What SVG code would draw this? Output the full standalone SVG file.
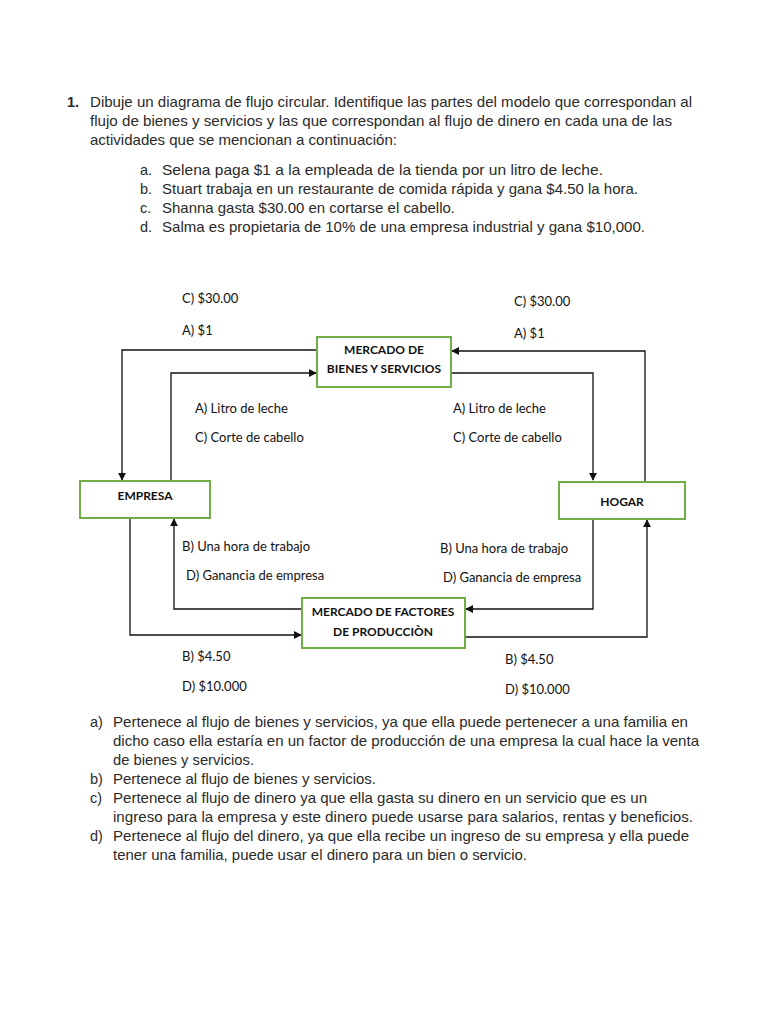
<svg xmlns="http://www.w3.org/2000/svg" width="768" height="1024" viewBox="0 0 768 1024">
<defs>
<style>
.q{font-family:"Liberation Sans",Arial,sans-serif;font-size:14.5px;fill:#2a2a2a}
.b{font-weight:bold}
.l{font-family:Lato,"Open Sans",sans-serif;font-size:13px;fill:#111}
.n{fill:#fff;stroke:#70ad47;stroke-width:2}
.nt{font-family:Lato,"Open Sans",sans-serif;font-size:12px;font-weight:bold;fill:#111;text-anchor:middle}
.c{fill:none;stroke:#111;stroke-width:1.3}
</style>
<marker id="ah" viewBox="0 0 10 10" refX="9" refY="5" markerWidth="8" markerHeight="8" markerUnits="userSpaceOnUse" orient="auto">
<path d="M0,0 L10,5 L0,10 z" fill="#111"/>
</marker>
</defs>
<rect width="768" height="1024" fill="#fff"/>

<g id="question">
<text class="q b" x="67" y="107">1.</text>
<text class="q" x="90" y="107" textLength="602" lengthAdjust="spacingAndGlyphs">Dibuje un diagrama de flujo circular. Identifique las partes del modelo que correspondan al</text>
<text class="q" x="90" y="126" textLength="582" lengthAdjust="spacingAndGlyphs">flujo de bienes y servicios y las que correspondan al flujo de dinero en cada una de las</text>
<text class="q" x="90" y="145" textLength="307" lengthAdjust="spacingAndGlyphs">actividades que se mencionan a continuación:</text>
<text class="q" x="140" y="175">a.</text>
<text class="q" x="162" y="175" textLength="441" lengthAdjust="spacingAndGlyphs">Selena paga $1 a la empleada de la tienda por un litro de leche.</text>
<text class="q" x="140" y="194">b.</text>
<text class="q" x="162" y="194" textLength="476" lengthAdjust="spacingAndGlyphs">Stuart trabaja en un restaurante de comida rápida y gana $4.50 la hora.</text>
<text class="q" x="140" y="213">c.</text>
<text class="q" x="162" y="213" textLength="293" lengthAdjust="spacingAndGlyphs">Shanna gasta $30.00 en cortarse el cabello.</text>
<text class="q" x="140" y="232">d.</text>
<text class="q" x="162" y="232" textLength="483" lengthAdjust="spacingAndGlyphs">Salma es propietaria de 10% de una empresa industrial y gana $10,000.</text>
</g>

<g id="connectors">
<polyline class="c" points="317,350 122,350 122,480" marker-end="url(#ah)"/>
<polyline class="c" points="171,481 171,373 316,373" marker-end="url(#ah)"/>
<polyline class="c" points="451,373 593,373 593,480" marker-end="url(#ah)"/>
<polyline class="c" points="645,481 645,351 452,351" marker-end="url(#ah)"/>
<polyline class="c" points="130,519 130,635 301,635" marker-end="url(#ah)"/>
<polyline class="c" points="302,609 174,609 174,519" marker-end="url(#ah)"/>
<polyline class="c" points="593,520 593,609 466,609" marker-end="url(#ah)"/>
<polyline class="c" points="465,637 647,637 647,520" marker-end="url(#ah)"/>
</g>

<g id="node-bienes">
<rect class="n" x="317" y="337" width="134" height="50"/>
<text class="nt" x="384" y="354">MERCADO DE</text>
<text class="nt" x="384" y="373">BIENES Y SERVICIOS</text>
</g>
<g id="node-empresa">
<rect class="n" x="80" y="481" width="130" height="37"/>
<text class="nt" x="145" y="500">EMPRESA</text>
</g>
<g id="node-hogar">
<rect class="n" x="559" y="482" width="126" height="37"/>
<text class="nt" x="622" y="506">HOGAR</text>
</g>
<g id="node-factores">
<rect class="n" x="302" y="598" width="163" height="50"/>
<text class="nt" x="383" y="616">MERCADO DE FACTORES</text>
<text class="nt" x="383" y="636">DE PRODUCCIÒN</text>
</g>

<g id="labels">
<text class="l" x="182" y="303">C) $30.00</text>
<text class="l" x="182" y="335">A) $1</text>
<text class="l" x="514" y="306">C) $30.00</text>
<text class="l" x="514" y="338">A) $1</text>
<text class="l" x="195" y="413">A) Litro de leche</text>
<text class="l" x="195" y="442">C) Corte de cabello</text>
<text class="l" x="453" y="413">A) Litro de leche</text>
<text class="l" x="453" y="442">C) Corte de cabello</text>
<text class="l" x="182" y="551">B) Una hora de trabajo</text>
<text class="l" x="186" y="580">D) Ganancia de empresa</text>
<text class="l" x="440" y="553">B) Una hora de trabajo</text>
<text class="l" x="443" y="582">D) Ganancia de empresa</text>
<text class="l" x="182" y="661">B) $4.50</text>
<text class="l" x="182" y="691">D) $10.000</text>
<text class="l" x="505" y="664">B) $4.50</text>
<text class="l" x="505" y="694">D) $10.000</text>
</g>

<g id="answers">
<text class="q" x="90" y="727">a)</text>
<text class="q" x="113" y="727" textLength="575" lengthAdjust="spacingAndGlyphs">Pertenece al flujo de bienes y servicios, ya que ella puede pertenecer a una familia en</text>
<text class="q" x="113" y="746" textLength="586" lengthAdjust="spacingAndGlyphs">dicho caso ella estaría en un factor de producción de una empresa la cual hace la venta</text>
<text class="q" x="113" y="765" textLength="141" lengthAdjust="spacingAndGlyphs">de bienes y servicios.</text>
<text class="q" x="90" y="784">b)</text>
<text class="q" x="113" y="784" textLength="263" lengthAdjust="spacingAndGlyphs">Pertenece al flujo de bienes y servicios.</text>
<text class="q" x="90" y="803">c)</text>
<text class="q" x="113" y="803" textLength="534" lengthAdjust="spacingAndGlyphs">Pertenece al flujo de dinero ya que ella gasta su dinero en un servicio que es un</text>
<text class="q" x="113" y="822" textLength="580" lengthAdjust="spacingAndGlyphs">ingreso para la empresa y este dinero puede usarse para salarios, rentas y beneficios.</text>
<text class="q" x="90" y="841">d)</text>
<text class="q" x="113" y="841" textLength="576" lengthAdjust="spacingAndGlyphs">Pertenece al flujo del dinero, ya que ella recibe un ingreso de su empresa y ella puede</text>
<text class="q" x="113" y="860" textLength="414" lengthAdjust="spacingAndGlyphs">tener una familia, puede usar el dinero para un bien o servicio.</text>
</g>
</svg>
